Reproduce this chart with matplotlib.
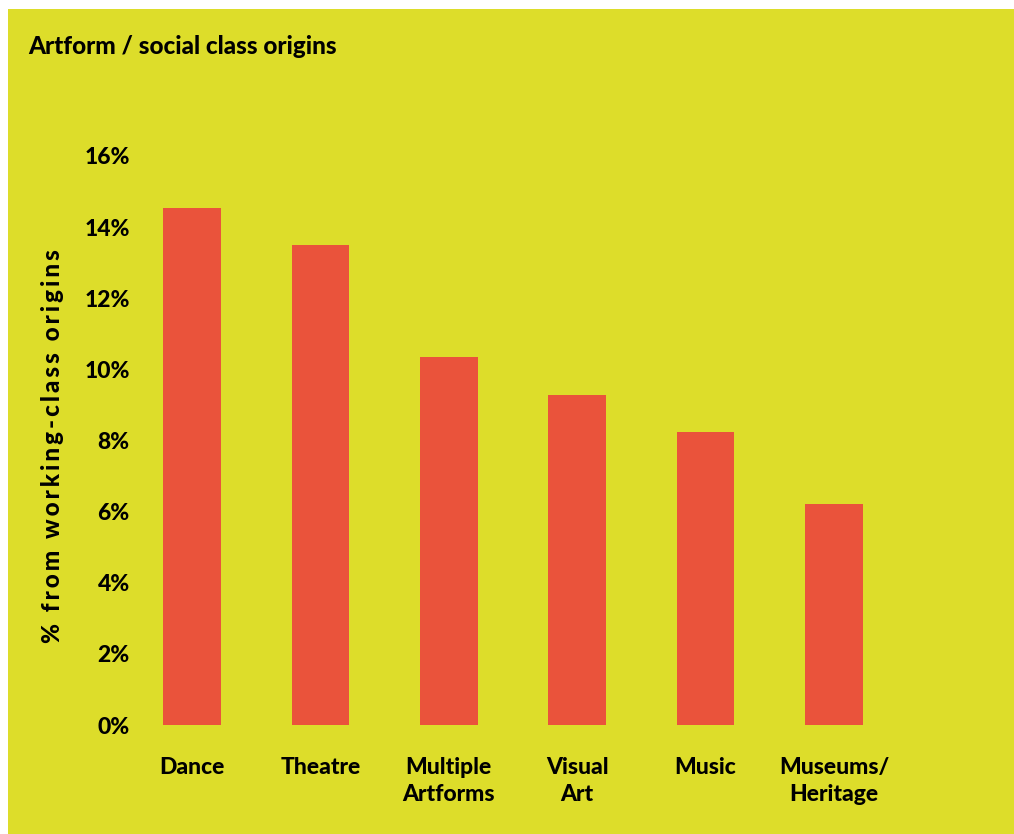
import matplotlib
matplotlib.use("Agg")
import matplotlib.pyplot as plt
from matplotlib.patches import Rectangle
from matplotlib.ticker import FuncFormatter

categories = ["Dance", "Theatre", "Multiple\nArtforms", "Visual\nArt", "Music", "Museums/\nHeritage"]
values = [14.55, 13.5, 10.35, 9.28, 8.24, 6.21]
yticks = [0, 2, 4, 6, 8, 10, 12, 14, 16]

title = "Artform / social class origins"
ylabel = "% from working-class origins"

YELLOW = "#DDDD2A"
RED = "#EA533B"
FONT = ["Lato", "DejaVu Sans"]

W, H = 1014, 834
fig = plt.figure(figsize=(W / 100, H / 100), dpi=100, facecolor="white")

# yellow panel with a thin white margin on the top and left
fig.patches.append(Rectangle((8 / W, 0), 1 - 8 / W, 1 - 9 / H,
                             transform=fig.transFigure, facecolor=YELLOW,
                             edgecolor="none", zorder=-10))

# axes placement in pixels
x0_px, px_per_cat = 192, 128.4
xlim = (-0.3, 5.5)
left_px = x0_px + xlim[0] * px_per_cat
right_px = x0_px + xlim[1] * px_per_cat
zero_px, px_per_unit = 725, 35.5625
ylim = (0, 16.5)
ax = fig.add_axes([left_px / W, (H - zero_px) / H,
                   (right_px - left_px) / W, ylim[1] * px_per_unit / H])
ax.set_facecolor("none")
ax.set_zorder(5)

x = list(range(len(categories)))
ax.bar(x, values, width=0.45, color=RED, zorder=2)

ax.set_xlim(*xlim)
ax.set_ylim(*ylim)
ax.set_yticks(yticks)
ax.yaxis.set_major_formatter(FuncFormatter(lambda v, _: f"{v:.0f}%"))
ax.set_xticks(x)
ax.set_xticklabels(categories, linespacing=1.35)

for s in ax.spines.values():
    s.set_visible(False)
ax.tick_params(axis="both", length=0)
ax.tick_params(axis="y", pad=17)
ax.tick_params(axis="x", pad=23)
for lab in ax.get_yticklabels() + ax.get_xticklabels():
    lab.set_family(FONT)
    lab.set_fontweight("black")
    lab.set_fontsize(16.5)
    lab.set_color("black")
for lab in ax.get_xticklabels():
    lab.set_horizontalalignment("center")
    lab.set_verticalalignment("top")

fig.text(28 / W, 1 - 46 / H, title, family=FONT, fontweight="black",
         fontsize=17.5, ha="left", va="center", color="black")

spaced = "\u2009".join(ylabel)
fig.text(53 / W, 1 - 446 / H, spaced, family=FONT, fontweight="black",
         fontsize=17.5, rotation=90, ha="center", va="center", color="black")

fig.savefig("out.png", dpi=100, facecolor="white")
